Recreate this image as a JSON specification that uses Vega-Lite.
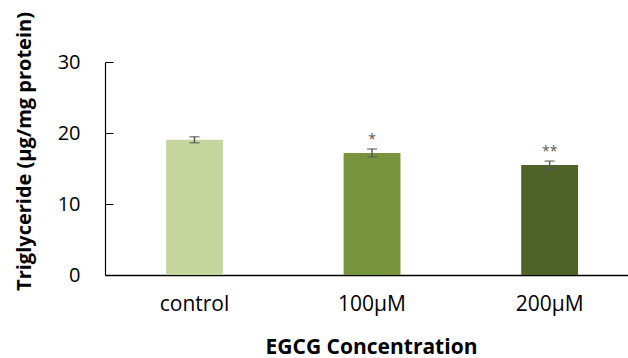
{
  "$schema": "https://vega.github.io/schema/vega-lite/v6.json",
  "width": 523,
  "height": 213,
  "autosize": {"type": "none"},
  "padding": {"left": 105, "top": 62, "right": 0, "bottom": 83},
  "background": "white",
  "config": {
    "view": {"stroke": null},
    "axis": {"labelFont": "Open Sans", "titleFont": "Open Sans", "labelColor": "#000000", "titleColor": "#000000", "domainColor": "#000000", "tickColor": "#000000"}
  },
  "data": {
    "values": [
      {"group": "control", "value": 19.05, "err": 0.42, "sig": ""},
      {"group": "100µM", "value": 17.2, "err": 0.55, "sig": "*"},
      {"group": "200µM", "value": 15.5, "err": 0.55, "sig": "**"}
    ]
  },
  "encoding": {
    "x": {
      "field": "group",
      "type": "nominal",
      "sort": null,
      "scale": {"paddingInner": 0.68, "paddingOuter": 0.3126, "align": 0.55},
      "axis": {
        "title": "EGCG Concentration",
        "titleFontSize": 21,
        "titleFontWeight": "bold",
        "titleX": 266,
        "titleY": 78,
        "titleBaseline": "alphabetic",
        "labelAngle": 0,
        "labelFontSize": 21,
        "labelPadding": 18,
        "ticks": false,
        "domainWidth": 1.5
      }
    },
    "y": {
      "field": "value",
      "type": "quantitative",
      "scale": {"domain": [0, 30]},
      "axis": {
        "title": "Triglyceride (µg/mg protein)",
        "titleFontSize": 20,
        "titleFontWeight": "bold",
        "titleAngle": -90,
        "titleX": -81,
        "titleY": 89,
        "titleAlign": "center",
        "titleBaseline": "middle",
        "values": [0, 10, 20, 30],
        "grid": false,
        "labelFontSize": 20,
        "labelPadding": 33,
        "tickSize": -8,
        "domainWidth": 1.2
      }
    }
  },
  "layer": [
    {
      "mark": {"type": "bar"},
      "encoding": {
        "color": {
          "field": "group",
          "type": "nominal",
          "sort": null,
          "scale": {"range": ["#C4D69B", "#77933C", "#4F6228"]},
          "legend": null
        }
      }
    },
    {
      "mark": {"type": "errorbar", "color": "#595959", "thickness": 1.5, "ticks": {"size": 10, "color": "#595959", "thickness": 1.5}},
      "encoding": {
        "y": {"field": "value", "type": "quantitative", "title": "Triglyceride (µg/mg protein)"},
        "yError": {"field": "err"}
      }
    },
    {
      "mark": {"type": "text", "color": "#595959", "fontSize": 14, "font": "Open Sans", "baseline": "bottom", "dy": -6},
      "encoding": {
        "text": {"field": "sig"}
      }
    }
  ]
}
